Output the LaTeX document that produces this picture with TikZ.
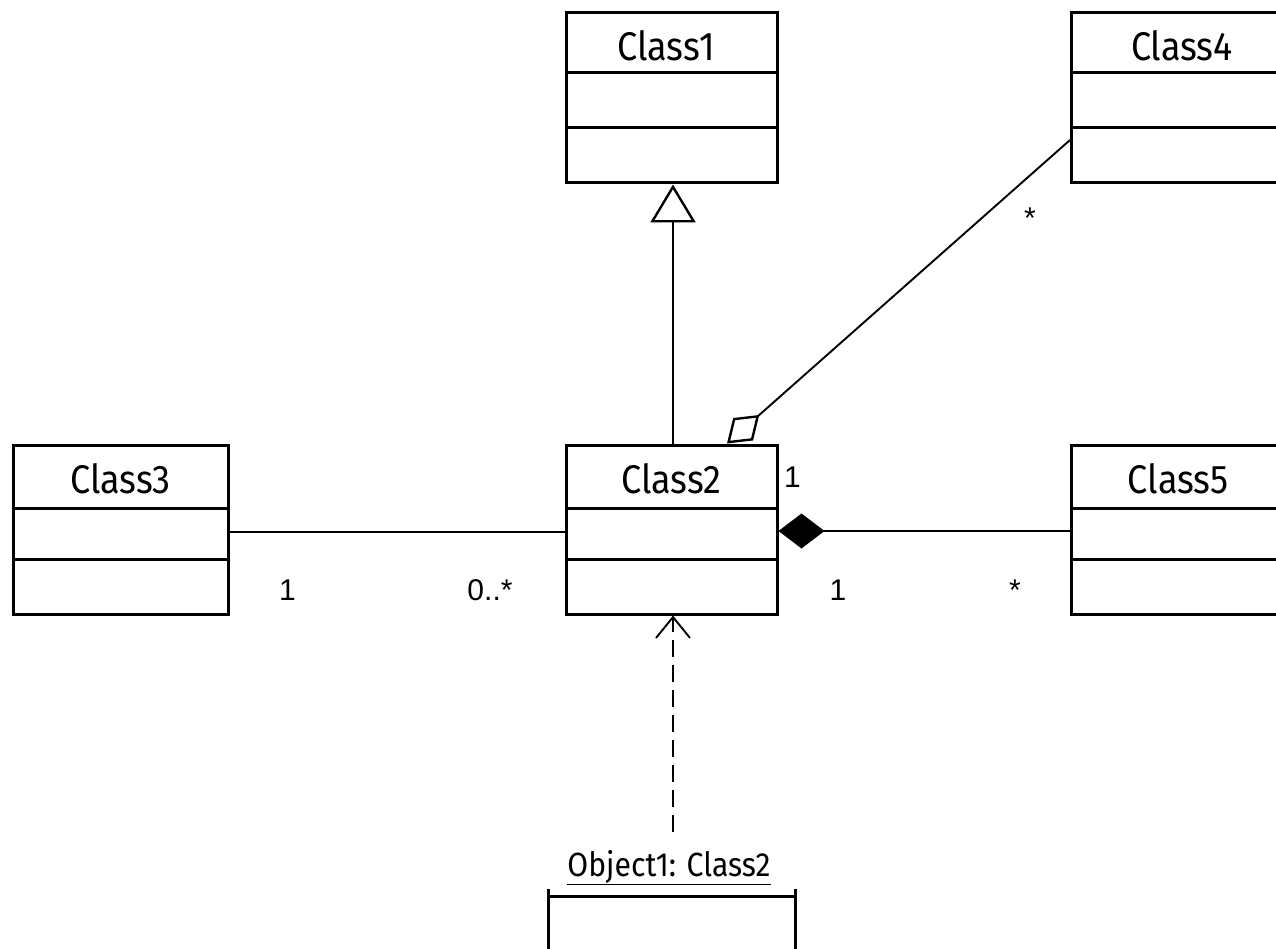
\documentclass[tikz,border=0pt]{standalone}
\usepackage{fontspec}
\setmainfont{Liberation Sans}
\newfontfamily\namefont[FakeStretch=0.9]{Fira Sans}
\newfontfamily\multfont{Liberation Sans}
\usetikzlibrary{arrows.meta}
\begin{document}
\begin{tikzpicture}[x=1pt,y=-1pt,
  classbox/.style={draw, line width=3pt, minimum width=211pt, minimum height=169pt, inner sep=0pt},
  divider/.style={line width=3pt},
  cname/.style={font=\namefont\fontsize{40}{40}\selectfont, inner sep=0pt},
  mult/.style={font=\multfont\fontsize{30}{30}\selectfont, inner sep=0pt, anchor=base},
  conn/.style={line width=1.9pt},
  gen/.style={conn, -{Triangle[open, length=38pt, width=45pt, line width=2.4pt]}},
  agg/.style={conn, -{Diamond[open, length=43pt, width=30pt, line width=2.4pt]}},
  comp/.style={conn, -{Diamond[length=46pt, width=35pt]}},
  dep/.style={conn, dash pattern=on 17pt off 8pt, -{Straight Barb[length=21pt, width=34pt, line width=1.9pt]}},
]
\useasboundingbox (0,0) rectangle (1276,949);
\clip (0,0) rectangle (1276,949);

% classes
\node[classbox, minimum height=170pt] (c1) at (671.5,98) {};
\node[classbox, minimum height=170pt, minimum width=212pt] (c4) at (1177.5,98) {};
\node[classbox, minimum width=215pt] (c3) at (120.5,529.5) {};
\node[classbox] (c2) at (671.5,529.5) {};
\node[classbox, minimum width=212pt] (c5) at (1177.5,529.5) {};

% dividers
\foreach \c in {c1,c4}{
  \draw[divider] ([yshift=-61pt]\c.north west) -- ([yshift=-61pt]\c.north east);
  \draw[divider] ([yshift=-116pt]\c.north west) -- ([yshift=-116pt]\c.north east);
}
\foreach \c in {c3,c2,c5}{
  \draw[divider] ([yshift=-65pt]\c.north west) -- ([yshift=-65pt]\c.north east);
  \draw[divider] ([yshift=-116pt]\c.north west) -- ([yshift=-116pt]\c.north east);
}

% names
\node[cname] (n1) at (666,46) {Class1};
\node[cname] (n4) at (1182,46) {Class4};
\node[cname] (n3) at (120.5,479) {Class3};
\node[cname] (n2) at (671.5,479) {Class2};
\node[cname] (n5) at (1178,479) {Class5};

% object
\node[font=\namefont\fontsize{33.5}{33.5}\selectfont, inner sep=0pt, anchor=base] (obj) at (669,876) {\underline{Object1: Class2}};
\coordinate (oTL) at (548,889);
\coordinate (oTR) at (795,889);
\draw[divider] (548,896) -- (795,896);
\draw[divider] (oTL) -- (548,955);
\draw[divider] (oTR) -- (795,955);

% connectors
\draw[gen] (c2.north -| 673,0) -- (c1.south -| 673,0);
\draw[conn] (c3.east |- 0,532) -- (c2.west |- 0,532);
\draw[comp] (c5.west |- 0,531) -- (c2.east |- 0,531);
\draw[agg] ([yshift=-42pt]c4.west) -- ([xshift=55.5pt]c2.north);
\coordinate (depend) at (673,832);
\draw[dep] (depend) -- (c2.south -| depend);

% multiplicities
\node[mult] (m1) at (287.5,600) {1};
\node[mult] (m2) at (490,600) {0..*};
\node[mult] (m3) at (838,600) {1};
\node[mult] (m4) at (1015,600) {*};
\node[mult] (m5) at (792.5,487) {1};
\node[mult] (m6) at (1030,229) {*};
\end{tikzpicture}
\end{document}
